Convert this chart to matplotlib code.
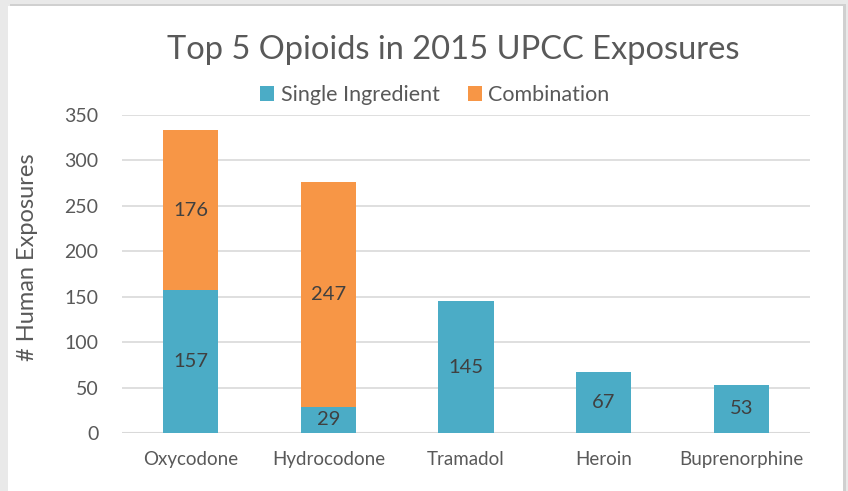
import matplotlib
matplotlib.use("Agg")
import matplotlib.pyplot as plt
from matplotlib.patches import Rectangle

categories = ["Oxycodone", "Hydrocodone", "Tramadol", "Heroin", "Buprenorphine"]
single = [157, 29, 145, 67, 53]
combination = [176, 247, 0, 0, 0]
yticks = [0, 50, 100, 150, 200, 250, 300, 350]

plt.rcParams['font.family'] = ['Lato', 'DejaVu Sans']
TEXT = '#595959'
TEAL = '#4BACC6'
ORANGE = '#F79646'

W, H = 848, 491
fig = plt.figure(figsize=(W/100, H/100), dpi=100)
fig.patch.set_facecolor('#E9E9E9')
# white panel with subtle shadow
fig.patches.append(Rectangle((10/W, 0), 836/W, 1 - 4/H, transform=fig.transFigure,
                             facecolor='#D0D0D0', edgecolor='none', zorder=-2))
fig.patches.append(Rectangle((8/W, 0), 835/W, 1 - 6/H, transform=fig.transFigure,
                             facecolor='white', edgecolor='none', zorder=-1))

ax = fig.add_axes([122/W, (H-433)/H, (810-122)/W, (433-115)/H])
ax.set_zorder(2)
ax.set_facecolor('none')
x = list(range(len(categories)))
bw = 0.4
b1 = ax.bar(x, single, width=bw, color=TEAL, label='Single Ingredient', zorder=3)
b2 = ax.bar(x, combination, width=bw, bottom=single, color=ORANGE, label='Combination', zorder=3)

for i in x:
    ax.text(i, single[i]/2, str(single[i]), ha='center', va='center',
            fontsize=14.5, color='#404040', zorder=4)
    if combination[i] > 0:
        ax.text(i, single[i] + combination[i]/2, str(combination[i]), ha='center',
                va='center', fontsize=14.5, color='#404040', zorder=4)

ax.set_ylim(0, 350)
ax.set_xlim(-0.5, 4.5)
ax.set_yticks(yticks)
ax.set_yticklabels([str(v) for v in yticks], fontsize=14, color=TEXT)
ax.set_xticks(x)
ax.set_xticklabels(categories, fontsize=13.5, color=TEXT)
ax.tick_params(axis='both', length=0)
ax.tick_params(axis='y', pad=17)
ax.tick_params(axis='x', pad=13)
ax.grid(axis='y', color='#D9D9D9', linewidth=1.2, zorder=0)
for s in ax.spines.values():
    s.set_visible(False)
ax.axhline(0, color='#D9D9D9', linewidth=1.5, zorder=2)

ax.set_ylabel('# Human Exposures', fontsize=17, color=TEXT)
ax.yaxis.set_label_coords((38 - 122) / 688, (433 - 257) / 318)

fig.text(453/W, 1 - 50/H, 'Top 5 Opioids in 2015 UPCC Exposures', ha='center', va='center',
         fontsize=23.5, color=TEXT)
fig.legend(handles=[b1, b2], loc='center', bbox_to_anchor=(435/W, 1 - 95/H), ncol=2,
           frameon=False, fontsize=15.5, labelcolor=TEXT, handlelength=0.65,
           handleheight=0.65, handletextpad=0.3, columnspacing=1.3)

fig.savefig('out.png', dpi=100)
